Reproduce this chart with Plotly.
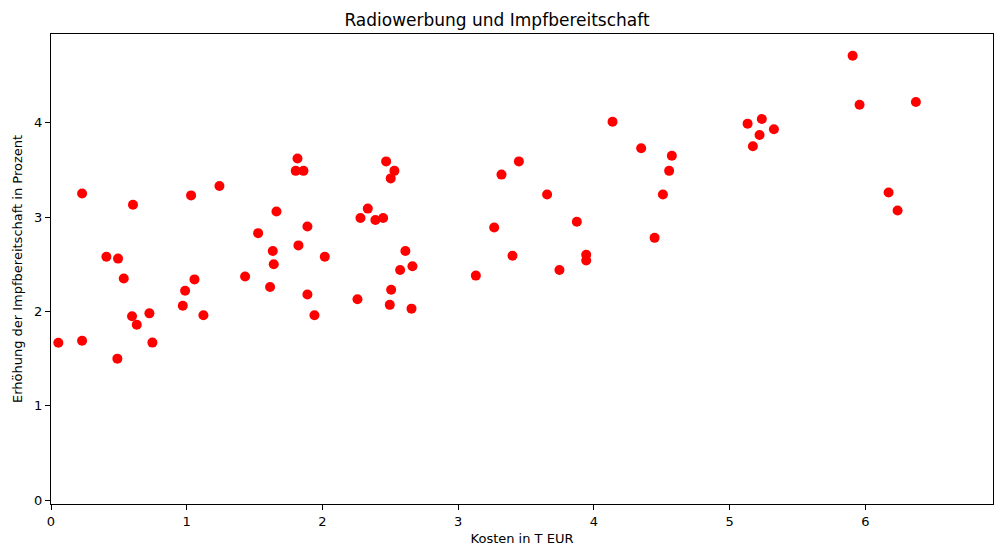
import plotly.graph_objects as go

kosten = [0.054, 0.229, 0.229, 0.408, 0.494, 0.536, 0.489, 0.604, 0.597, 0.632,
          0.725, 0.747, 0.971, 0.988, 1.032, 1.057, 1.123, 1.241, 1.430, 1.526,
          1.614, 1.634, 1.641, 1.661, 1.816, 1.803, 1.860, 1.823, 1.889, 1.889,
          1.941, 2.017, 2.258, 2.280, 2.334, 2.390, 2.447, 2.469, 2.530, 2.503,
          2.506, 2.496, 2.572, 2.611, 2.663, 2.656, 3.130, 3.265, 3.319, 3.400,
          3.447, 3.655, 3.746, 3.874, 3.943, 3.943, 4.137, 4.348, 4.447, 4.508,
          4.554, 4.574, 5.132, 5.237, 5.220, 5.171, 5.326, 5.906, 5.957, 6.372,
          6.171, 6.237]
erhoehung = [1.668, 3.25, 1.69, 2.58, 2.56, 2.35, 1.50, 3.13, 1.95, 1.86,
             1.98, 1.67, 2.06, 2.22, 3.23, 2.34, 1.96, 3.33, 2.37, 2.83,
             2.26, 2.64, 2.50, 3.06, 3.62, 3.49, 3.49, 2.70, 2.90, 2.18,
             1.96, 2.58, 2.13, 2.99, 3.09, 2.97, 2.99, 3.59, 3.49, 3.41,
             2.23, 2.07, 2.44, 2.64, 2.48, 2.03, 2.38, 2.89, 3.45, 2.59,
             3.59, 3.24, 2.44, 2.95, 2.60, 2.54, 4.01, 3.73, 2.78, 3.24,
             3.49, 3.65, 3.99, 4.04, 3.87, 3.75, 3.93, 4.71, 4.19, 4.22,
             3.26, 3.07]

fig = go.Figure(go.Scatter(
    x=kosten, y=erhoehung, mode="markers",
    marker=dict(color="red", size=10, line=dict(width=0)),
))

axis_common = dict(
    showline=True, linecolor="black", linewidth=1, mirror=True,
    ticks="outside", ticklen=5, tickcolor="black", tickwidth=1,
    showgrid=False, zeroline=False,
    tickfont=dict(family="DejaVu Sans", size=13, color="black"),
)

fig.update_layout(
    width=994, height=548,
    margin=dict(l=51, r=1, t=34, b=44),
    paper_bgcolor="white", plot_bgcolor="white",
    font=dict(family="DejaVu Sans", color="black"),
    title=dict(text="Radiowerbung und Impfbereitschaft", x=0.5, xanchor="center",
               y=1 - 20 / 548, yanchor="middle",
               font=dict(family="DejaVu Sans", size=17, color="black")),
    showlegend=False,
)
fig.update_xaxes(range=[0, 6.94], dtick=1, **axis_common,
                 title=dict(text="Kosten in T EUR", standoff=6,
                            font=dict(family="DejaVu Sans", size=13, color="black")))
fig.update_yaxes(range=[-0.04, 4.94], dtick=1, **axis_common,
                 title=dict(text="Erhöhung der Impfbereitschaft in Prozent", standoff=8,
                            font=dict(family="DejaVu Sans", size=13, color="black")))

fig.write_html("out.html",
               config={"displayModeBar": False},
               post_script="document.body.style.margin='0';document.body.style.overflow='hidden';")
